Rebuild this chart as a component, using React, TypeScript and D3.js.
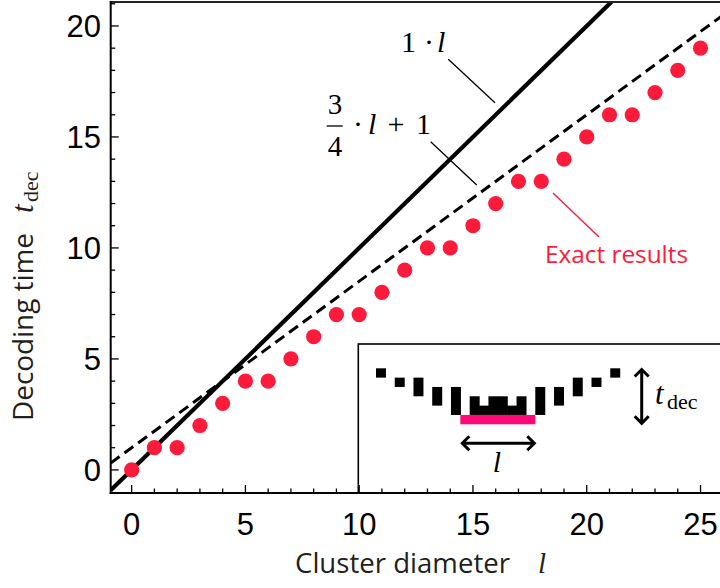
import React from "react";
import * as d3 from "d3";

// ---- data ----
const clusterDiameter = [0,1,2,3,4,5,6,7,8,9,10,11,12,13,14,15,16,17,18,19,20,21,22,23,24,25];
const decodingTime   = [0,1,1,2,3,4,4,5,6,7,7,8,9,10,10,11,12,13,13,14,15,16,16,17,18,19];
const xTickLabels = [0,5,10,15,20,25];
const yTickLabels = [0,5,10,15,20];
// reference lines: t = slope * l + intercept
const lineSlopes = [1, 0.75];
const lineIntercepts = [0, 1];
// inset illustration (cluster of defects): column index, top row, bottom row
const insetCols = [0,2,4,6,8,10,11,12,13,14,15,17,19,21,23,25];
const insetTop = [0,1,1,2,2,3,4,3,3,4,3,2,2,1,1,0];
const insetBottom = [1,2,3,4,5,5,5,5,5,5,5,5,4,3,2,1];
const insetBar = [9, 17];

const W = 720, H = 588;
const L = 110.7, R = 721, T = 2, B = 493;
const RED = "#fd1b3b";
const INK = "#231f20";
const SERIF = "'Liberation Serif', serif";

export default function App() {
  const x = d3.scaleLinear().domain([-0.92, 25.9]).range([L, R]);
  const y = d3.scaleLinear().domain([-1.04, 21.08]).range([B, T]);

  const lineGen = (s: number, c: number) =>
    d3.line<number>().x((v) => x(v)).y((v) => y(s * v + c))([-0.92, 25.9]) || "";

  const xMinor = d3.range(0, 26);
  const yMinor = d3.range(0, 22);

  // inset scales
  const ix = d3.scaleLinear().domain([0, 26]).range([376, 376 + 26 * 9.37]);
  const iy = d3.scaleLinear().domain([0, 6]).range([368.3, 368.3 + 6 * 9.33]);

  const arrowHead = (tx: number, ty: number, dx: number, dy: number) => {
    const s = 7;
    const px = -dy, py = dx;
    return `M${tx - dx * s + px * s},${ty - dy * s + py * s} L${tx},${ty} L${tx - dx * s - px * s},${ty - dy * s - py * s}`;
  };

  const hx0 = ix(insetBar[0]) + 2, hx1 = ix(insetBar[1]) - 1, hy = 443.3;
  const vx = 641.7, vy0 = 369.5, vy1 = 423.3;

  return (
    <svg width={W} height={H} style={{ position: "absolute", left: 0, top: 0, background: "#fff" }}
      fontFamily="'Liberation Sans', Arial, sans-serif">
      <defs>
        <clipPath id="plot">
          <rect x={L} y={T} width={R - L} height={B - T} />
        </clipPath>
      </defs>

      <g clipPath="url(#plot)">
        <path d={lineGen(lineSlopes[0], lineIntercepts[0])} stroke="#000" strokeWidth={4.2} fill="none" />
        <path d={lineGen(lineSlopes[1], lineIntercepts[1])} stroke="#000" strokeWidth={3} strokeDasharray="11,6" fill="none" />
        {clusterDiameter.map((l, i) => (
          <circle key={i} cx={x(l)} cy={y(decodingTime[i])} r={7.6} fill={RED} />
        ))}
      </g>

      {/* annotations */}
      <text x={401} y={52} fontFamily={SERIF} fontSize={30} fill="#000">1</text>
      <text x={429} y={52} fontFamily={SERIF} fontSize={30} fill="#000" textAnchor="middle">·</text>
      <text x={437} y={52} fontFamily={SERIF} fontSize={30} fontStyle="italic" fill="#000">l</text>
      <line x1={448.3} y1={59.3} x2={495} y2={102.7} stroke="#000" strokeWidth={1.3} />

      <text x={335} y={114} fontFamily={SERIF} fontSize={29} textAnchor="middle">3</text>
      <line x1={326.7} x2={342.7} y1={126} y2={126} stroke="#000" strokeWidth={1.3} />
      <text x={335} y={156} fontFamily={SERIF} fontSize={29} textAnchor="middle">4</text>
      <text x={358} y={134} fontFamily={SERIF} fontSize={30} textAnchor="middle">·</text>
      <text x={368} y={134} fontFamily={SERIF} fontSize={30} fontStyle="italic">l</text>
      <text x={396} y={134} fontFamily={SERIF} fontSize={30} textAnchor="middle">+</text>
      <text x={416} y={134} fontFamily={SERIF} fontSize={30}>1</text>
      <line x1={430.7} y1={141.7} x2={476.7} y2={185} stroke="#000" strokeWidth={1.3} />

      <line x1={553} y1={193} x2={599} y2={237} stroke={RED} strokeWidth={1.4} />
      <text x={545} y={263} fontFamily="'Open Sans', sans-serif" fontSize={23} fill={RED} textLength={143} lengthAdjust="spacingAndGlyphs">Exact results</text>

      {/* inset */}
      <rect x={358.3} y={344} width={W} height={B - 344} fill="#fff" stroke="#000" strokeWidth={1.6} />
      {insetCols.map((c, i) => (
        <rect key={i} x={ix(c)} y={iy(insetTop[i])} width={ix(c + 1) - ix(c) + 0.6}
          height={iy(insetBottom[i]) - iy(insetTop[i])} fill="#000" />
      ))}
      <rect x={ix(insetBar[0])} y={iy(5)} width={ix(insetBar[1]) - ix(insetBar[0])} height={iy(6) - iy(5)} fill="#fe0a76" />
      <g stroke="#000" strokeWidth={3} fill="none" strokeLinecap="butt">
        <line x1={hx0 + 1} x2={hx1 - 1} y1={hy} y2={hy} />
        <path d={arrowHead(hx0, hy, -1, 0)} />
        <path d={arrowHead(hx1, hy, 1, 0)} />
        <line x1={vx} x2={vx} y1={vy0 + 1} y2={vy1 - 1} />
        <path d={arrowHead(vx, vy0, 0, -1)} />
        <path d={arrowHead(vx, vy1, 0, 1)} />
      </g>
      <text x={497} y={472} fontFamily={SERIF} fontSize={30} fontStyle="italic" textAnchor="middle">l</text>
      <text x={655} y={404} fontFamily={SERIF} fontSize={31} fontStyle="italic">t</text>
      <text x={667} y={409} fontFamily={SERIF} fontSize={22}>dec</text>

      {/* frame */}
      <line x1={L} x2={R} y1={T} y2={T} stroke="#222" strokeWidth={2} />
      <line x1={L} x2={L} y1={T - 1} y2={B + 1} stroke="#000" strokeWidth={2} />
      <line x1={L - 1} x2={R} y1={B} y2={B} stroke="#000" strokeWidth={2} />

      {/* ticks */}
      {xMinor.map((v) => (
        <line key={"xt" + v} x1={x(v)} x2={x(v)} y1={B} y2={B - (v % 5 === 0 ? 8 : 4.5)} stroke="#000" strokeWidth={1.3} />
      ))}
      {yMinor.map((v) => (
        <line key={"yt" + v} x1={L} x2={L + (v % 5 === 0 ? 8 : 4.5)} y1={y(v)} y2={y(v)} stroke="#000" strokeWidth={1.3} />
      ))}
      {xTickLabels.map((v) => (
        <text key={"xl" + v} x={x(v)} y={535} fontSize={31} textAnchor="middle" fill="#000">{v}</text>
      ))}
      {yTickLabels.map((v) => (
        <text key={"yl" + v} x={101} y={y(v) + 11} fontSize={31} textAnchor="end" fill="#000">{v}</text>
      ))}

      {/* axis titles */}
      <text x={295} y={573} fontFamily="'Open Sans', sans-serif" fontSize={27} fill={INK} textLength={215} lengthAdjust="spacingAndGlyphs">Cluster diameter</text>
      <text x={538} y={573} fontFamily={SERIF} fontSize={29} fontStyle="italic" fill={INK}>l</text>

      <g transform="translate(33,421) rotate(-90)">
        <text x={0} y={0} fontFamily="'Open Sans', sans-serif" fontSize={27} fill={INK} textLength={188} lengthAdjust="spacingAndGlyphs">Decoding time</text>
        <text x={208} y={0} fontFamily={SERIF} fontSize={31} fontStyle="italic" fill={INK}>t</text>
        <text x={219} y={5} fontFamily={SERIF} fontSize={22} fill={INK}>dec</text>
      </g>
    </svg>
  );
}
